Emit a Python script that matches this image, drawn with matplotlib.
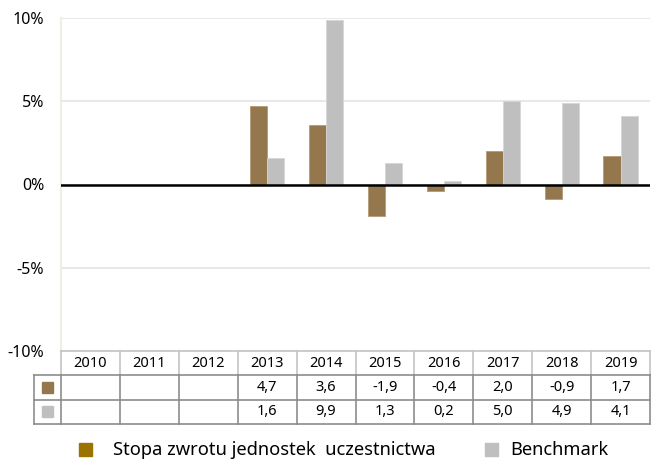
import numpy as np
import matplotlib
matplotlib.use("Agg")
import matplotlib.pyplot as plt
from matplotlib.patches import Rectangle

years = ["2010", "2011", "2012", "2013", "2014", "2015", "2016", "2017", "2018", "2019"]
fund = [np.nan, np.nan, np.nan, 4.7, 3.6, -1.9, -0.4, 2.0, -0.9, 1.7]
bench = [np.nan, np.nan, np.nan, 1.6, 9.9, 1.3, 0.2, 5.0, 4.9, 4.1]
yticks = [-10, -5, 0, 5, 10]
label_fund = "Stopa zwrotu jednostek  uczestnictwa"
label_bench = "Benchmark"

c_fund = "#94774c"
c_bench = "#bfbfbf"
c_leg_fund = "#9a7300"

plt.rcParams["font.family"] = ["Noto Sans", "DejaVu Sans"]

W, H = 651, 462
fig = plt.figure(figsize=(W / 100, H / 100), dpi=100)

def fx(px):
    return px / W

def fy(px):
    return 1 - px / H

# main bar axes
left, right, top, bottom = 61, 650, 18, 351
ax = fig.add_axes([fx(left), fy(bottom), fx(right - left), fy(top) - fy(bottom)])
x = np.arange(len(years))
bw = 0.29
ax.bar(x - bw / 2, fund, bw, color=c_fund, edgecolor="#b39a74", linewidth=0.6, zorder=3)
ax.bar(x + bw / 2, bench, bw, color=c_bench, edgecolor="#d6d6d6", linewidth=0.6, zorder=3)
ax.set_xlim(-0.5, len(years) - 0.5)
ax.set_ylim(-10, 10)
ax.set_yticks(yticks)
ax.set_yticklabels([f"{t}%" for t in yticks], fontsize=11.5)
ax.tick_params(axis="y", length=0, pad=12)
ax.set_xticks([])
for t in yticks:
    ax.axhline(t, color="#e8e8e8", lw=1.5, zorder=1)
ax.axhline(0, color="black", lw=1.8, zorder=4)
for s in ["top", "right", "bottom"]:
    ax.spines[s].set_visible(False)
ax.spines["left"].set_color("#eeeee6")
ax.spines["left"].set_linewidth(1.5)

# data table below
tleft, ttop, tbot = 34, 351, 424
unit = (right - left) / len(years)
extra = (left - tleft) / unit
tax = fig.add_axes([fx(tleft), fy(tbot), fx(right - tleft), fy(ttop) - fy(tbot)])
tax.set_xlim(-0.5 - extra, len(years) - 0.5)
tax.set_ylim(3, 0)
tax.axis("off")

line_c = "#8c8c8c"
head_c = "#c4c4c4"
fs_tab = 10.5
# header row
for i, yr in enumerate(years):
    tax.text(i, 0.5, yr, ha="center", va="center", fontsize=fs_tab)
for i in range(len(years) + 1):
    tax.plot([i - 0.5, i - 0.5], [0, 1], color=head_c, lw=1.2, clip_on=False)
tax.plot([-0.5, len(years) - 0.5], [0, 0], color=head_c, lw=1.2, clip_on=False)
# value rows
for r, (vals, col) in enumerate([(fund, c_fund), (bench, c_bench)]):
    yc = 1.5 + r
    tax.add_patch(Rectangle((-0.5 - extra / 2 - 0.085, yc - 0.22), 0.17, 0.44, color=col, clip_on=False))
    for i, v in enumerate(vals):
        if not np.isnan(v):
            tax.text(i, yc, f"{v:.1f}".replace(".", ","), ha="center", va="center", fontsize=fs_tab)
for yy in [1, 2, 3]:
    tax.plot([-0.5 - extra, len(years) - 0.5], [yy, yy], color=line_c, lw=1.2, clip_on=False)
for i in range(len(years) + 1):
    tax.plot([i - 0.5, i - 0.5], [1, 3], color=line_c, lw=1.2, clip_on=False)
tax.plot([-0.5 - extra, -0.5 - extra], [1, 3], color=line_c, lw=1.2, clip_on=False)

# legend
sq = 13
fig.patches.append(Rectangle((fx(79), fy(456)), fx(sq), fy(456 - sq) - fy(456),
                             color=c_leg_fund, transform=fig.transFigure, figure=fig))
fig.text(fx(113), fy(450), label_fund, fontsize=13.2, va="center", ha="left")
fig.patches.append(Rectangle((fx(485), fy(456)), fx(sq), fy(456 - sq) - fy(456),
                             color=c_bench, transform=fig.transFigure, figure=fig))
fig.text(fx(510), fy(450), label_bench, fontsize=13.2, va="center", ha="left")

fig.savefig("out.png", dpi=100)
